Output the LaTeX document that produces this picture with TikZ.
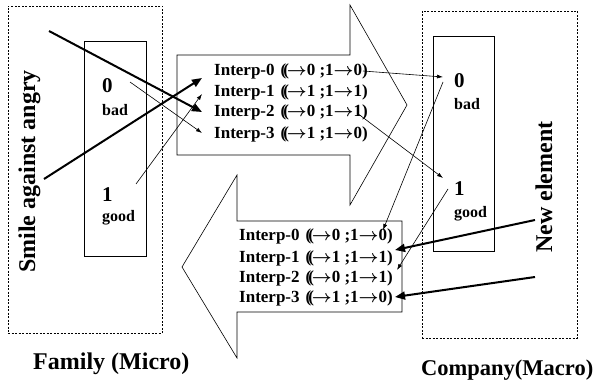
\documentclass[tikz,border=0pt]{standalone}
\usepackage{fontspec}
\setmainfont{Liberation Serif}
\usetikzlibrary{arrows.meta}
\newcommand{\ra}{{\boldmath$\rightarrow$}}
\newcommand{\ip}[3]{Interp-#1\hspace{6pt}(\kern-3pt(\kern-2pt\ra#2 ;1\ra#3)}
\begin{document}
\begin{tikzpicture}[x=1pt,y=-1pt,
  dashbox/.style={draw, line width=0.6pt, dash pattern=on 2pt off 1.5pt, inner sep=0},
  innerbox/.style={draw, line width=0.8pt, inner sep=0},
  bigarrow/.style={draw, line width=0.6pt},
  interp/.style={font=\fontsize{17}{19}\selectfont\bfseries, anchor=base west, inner sep=0},
  digit/.style={font=\fontsize{21}{24}\selectfont\bfseries, anchor=base west, inner sep=0},
  small/.style={font=\fontsize{16}{18}\selectfont\bfseries, anchor=base west, inner sep=0},
  big/.style={font=\fontsize{24}{27}\selectfont\bfseries, anchor=base west, inner sep=0},
  thinarr/.style={line width=0.6pt, -{Latex[length=6pt,width=4pt]}},
  thickarr/.style={line width=2pt, -{Triangle[length=10pt,width=8pt]}}]
\useasboundingbox (0,0) rectangle (596,385);
% outer dashed boxes
\node[dashbox, minimum width=154pt, minimum height=327pt] (famBox) at (85,169.5) {};
\node[dashbox, minimum width=155pt, minimum height=327pt] (comBox) at (499.5,174.5) {};
% inner boxes
\node[innerbox, minimum width=62pt, minimum height=215pt] (famIn) at (115,148.5) {};
\node[innerbox, minimum width=61pt, minimum height=215pt] (comIn) at (463.5,143.5) {};
% big arrows
\draw[bigarrow] (177,55) -- (350,55) -- (350,5) -- (407,105) -- (350,205) -- (350,155) -- (177,155) -- cycle;
\draw[bigarrow] (402,221) -- (237,221) -- (237,175) -- (182,267) -- (237,358) -- (237,312) -- (402,312) -- cycle;
% texts
\node[big, rotate=90] (smile) at (35,273) {Smile against angry};
\node[big, rotate=90] (newel) at (552,253) {New element};
\node[big] (family) at (33,369) {Family (Micro)};
\node[big, font=\fontsize{22.5}{25}\selectfont\bfseries] (company) at (421,375) {Company(Macro)};
\node[digit] (f0) at (102,93) {0};
\node[small] (fbad) at (102,115) {bad};
\node[digit] (f1) at (102,201) {1};
\node[small] (fgood) at (102,221) {good};
\node[digit] (c0) at (454,88) {0};
\node[small] (cbad) at (454,110) {bad};
\node[digit] (c1) at (454,195) {1};
\node[small] (cgood) at (454,217) {good};
% interp rows, right arrow
\node[interp] (r0) at (214,76) {\ip{0}{0}{0}};
\node[interp] (r1) at (214,97) {\ip{1}{1}{1}};
\node[interp] (r2) at (214,117) {\ip{2}{0}{1}};
\node[interp] (r3) at (214,138) {\ip{3}{1}{0}};
% interp rows, left arrow
\node[interp] (l0) at (239,240) {\ip{0}{0}{0}};
\node[interp] (l1) at (239,262) {\ip{1}{1}{1}};
\node[interp] (l2) at (239,282) {\ip{2}{0}{1}};
\node[interp] (l3) at (239,302) {\ip{3}{1}{0}};
% connector end points
\coordinate (a1s) at (49,31);   \coordinate (a1e) at (202,112);
\coordinate (a2s) at (44,179);  \coordinate (a2e) at (202,78);
\coordinate (a3s) at (130,82);  \coordinate (a3e) at (202,133);
\coordinate (a4s) at (136,184); \coordinate (a4e) at (202,94);
\coordinate (a5s) at (363,71);  \coordinate (a5e) at (443,77);
\coordinate (a6s) at (357,113); \coordinate (a6e) at (443,178);
\coordinate (a7s) at (443,82);  \coordinate (a7e) at (383,230);
\coordinate (a8s) at (448,189); \coordinate (a8e) at (397,270);
\coordinate (a9s) at (535,220); \coordinate (a9e) at (395,250);
\coordinate (a10s) at (535,277); \coordinate (a10e) at (395,297);
% connectors
\draw[thickarr] (a1s) -- (a1e);
\draw[thickarr] (a2s) -- (a2e);
\draw[thinarr] (a3s) -- (a3e);
\draw[thinarr] (a4s) -- (a4e);
\draw[thinarr] (a5s) -- (a5e);
\draw[thinarr] (a6s) -- (a6e);
\draw[thinarr] (a7s) -- (a7e);
\draw[thinarr] (a8s) -- (a8e);
\draw[thickarr] (a9s) -- (a9e);
\draw[thickarr] (a10s) -- (a10e);
\end{tikzpicture}
\end{document}
